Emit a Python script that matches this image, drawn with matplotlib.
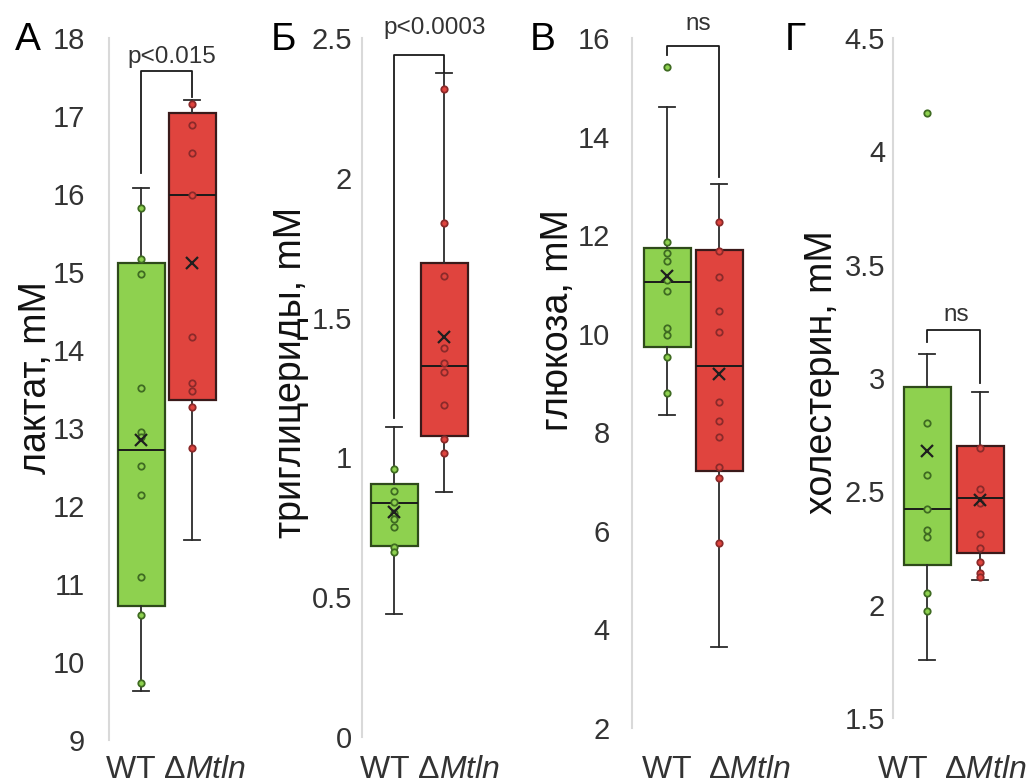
import matplotlib
matplotlib.use('Agg')
import matplotlib.pyplot as plt
from matplotlib.transforms import blended_transform_factory

plt.rcParams['font.family'] = ['Liberation Sans', 'DejaVu Sans']
plt.rcParams['mathtext.fontset'] = 'custom'
plt.rcParams['mathtext.rm'] = 'Liberation Sans'
plt.rcParams['mathtext.it'] = 'Liberation Sans:italic'
plt.rcParams['mathtext.bf'] = 'Liberation Sans:bold'

# ---------------- data ----------------
groups = ['WT', 'ΔMtln']
panel_letters = ['А', 'Б', 'В', 'Г']
y_titles = ['лактат, mM', 'триглицериды, mM', 'глюкоза, mM', 'холестерин, mM']
p_labels = ['p<0.015', 'p<0.0003', 'ns', 'ns']

# box stats: [whisker low, Q1, median, Q3, whisker high, mean]
lactate_wt_box = [9.63, 10.72, 12.72, 15.12, 16.08, 12.85]
lactate_mtln_box = [11.56, 13.36, 15.99, 17.04, 17.20, 15.12]
tg_wt_box = [0.44, 0.683, 0.837, 0.905, 1.109, 0.805]
tg_mtln_box = [0.876, 1.077, 1.327, 1.695, 2.374, 1.43]
glucose_wt_box = [8.35, 9.73, 11.05, 11.74, 14.60, 11.17]
glucose_mtln_box = [3.65, 7.22, 9.35, 11.70, 13.04, 9.18]
chol_wt_box = [1.756, 2.175, 2.42, 2.96, 3.106, 2.68]
chol_mtln_box = [2.11, 2.23, 2.47, 2.70, 2.94, 2.46]

# individual points
lactate_wt = [15.82, 15.17, 14.97, 13.51, 12.95, 12.88, 12.51, 12.14, 11.09, 10.60, 9.73]
lactate_mtln = [17.15, 16.88, 16.52, 15.99, 14.17, 13.58, 13.48, 13.27, 12.74]
tg_wt = [0.96, 0.88, 0.84, 0.80, 0.78, 0.75, 0.68, 0.66]
tg_mtln = [2.317, 1.84, 1.649, 1.39, 1.337, 1.305, 1.187, 1.066, 1.016]
glucose_wt = [15.41, 11.86, 11.64, 11.48, 11.09, 10.87, 10.11, 9.98, 9.53, 8.79]
glucose_mtln = [12.27, 11.68, 11.15, 10.46, 10.04, 8.62, 8.23, 7.90, 7.30, 7.08, 5.76]
chol_wt = [4.17, 2.80, 2.57, 2.42, 2.33, 2.30, 2.05, 1.97]
chol_mtln = [2.69, 2.51, 2.45, 2.31, 2.25, 2.19, 2.14, 2.12]

# significance brackets: [left leg end, top, right leg end]
lactate_bracket = [16.27, 17.58, 17.24]
tg_bracket = [1.14, 2.44, 2.38]
glucose_bracket = [15.65, 15.84, 13.18]
chol_bracket = [3.16, 3.21, 2.98]

# y axis ranges and ticks
lactate_ylim = (9, 18); lactate_ticks = [9, 10, 11, 12, 13, 14, 15, 16, 17, 18]
tg_ylim = (0, 2.5); tg_ticks = [0, 0.5, 1, 1.5, 2, 2.5]
glucose_ylim = (2, 16); glucose_ticks = [2, 4, 6, 8, 10, 12, 14, 16]
chol_ylim = (1.5, 4.5); chol_ticks = [1.5, 2, 2.5, 3, 3.5, 4, 4.5]

# ---------------- layout (pixels) ----------------
W, H = 1032, 784
fig = plt.figure(figsize=(W / 100, H / 100), dpi=100)

# axis line x, WT centre x, Mtln centre x, top y, bottom y
layouts = [
    (109, 141, 192, 38, 740),
    (362, 394, 444, 38, 737),
    (632, 667, 719, 38, 728),
    (893, 927, 980, 38, 718),
]
tick_pads = [24, 10, 22, 8]
letter_pos = [(28, 40), (283, 40), (543, 40), (795, 40)]
ylabel_pos = [(36, 378), (291, 372), (558, 320), (822, 372)]
ptext_x = [0.61, 0.82, 0.60, 0.55]
ptext_y = [17.76, 2.536, 16.28, 3.278]
xlabel_x = [0.67, 0.72, 0.94, 0.47]
xlabel_txt = ['WT $\\Delta\\mathit{Mtln}$', 'WT $\\Delta\\mathit{Mtln}$',
              'WT  $\\Delta\\mathit{Mtln}$', 'WT  $\\Delta\\mathit{Mtln}$']

green = '#8ED14F'
green_edge = '#2E4A1A'
green_pt = '#3F6B22'
red = '#E0443E'
red_edge = '#3A1A1A'
red_pt = '#8B2A2A'
line_col = '#2b2b2b'

panels = [
    (lactate_wt_box, lactate_mtln_box, lactate_wt, lactate_mtln, lactate_bracket, lactate_ylim, lactate_ticks),
    (tg_wt_box, tg_mtln_box, tg_wt, tg_mtln, tg_bracket, tg_ylim, tg_ticks),
    (glucose_wt_box, glucose_mtln_box, glucose_wt, glucose_mtln, glucose_bracket, glucose_ylim, glucose_ticks),
    (chol_wt_box, chol_mtln_box, chol_wt, chol_mtln, chol_bracket, chol_ylim, chol_ticks),
]


def stat(b):
    return dict(whislo=b[0], q1=b[1], med=b[2], q3=b[3], whishi=b[4], mean=b[5], fliers=[], label='')


for i, (bw, bm, pw, pm, br, ylim, ticks) in enumerate(panels):
    ax_x, gx, rx, top, bot = layouts[i]
    s = rx - gx
    gap = gx - ax_x
    width_px = 2 * gap + s
    ax = fig.add_axes([ax_x / W, 1 - bot / H, width_px / W, (bot - top) / H])
    ax.set_xlim(-gap / s, 1 + gap / s)
    ax.set_ylim(*ylim)
    bwid = 47 / s
    res = ax.bxp([stat(bw), stat(bm)], positions=[0, 1], widths=bwid,
                 patch_artist=True, showmeans=True, showfliers=False,
                 capwidths=16 / s,
                 boxprops=dict(linewidth=1.6, edgecolor=green_edge),
                 whiskerprops=dict(color=line_col, linewidth=1.3),
                 capprops=dict(color=line_col, linewidth=1.3),
                 medianprops=dict(color='#1a1a1a', linewidth=1.4),
                 meanprops=dict(marker='x', markersize=9, markeredgewidth=1.6,
                                markeredgecolor='#1f1f1f', markerfacecolor='none'))
    res['boxes'][0].set_facecolor(green)
    res['boxes'][0].set_edgecolor(green_edge)
    res['boxes'][1].set_facecolor(red)
    res['boxes'][1].set_edgecolor(red_edge)
    for m in res['means']:
        m.set_zorder(5)
    ax.plot([0] * len(pw), pw, 'o', ms=4.6, mfc=green, mec=green_pt, mew=1.3, zorder=4, clip_on=False)
    ax.plot([1] * len(pm), pm, 'o', ms=4.6, mfc=red, mec=red_pt, mew=1.3, zorder=4, clip_on=False)

    # bracket
    ax.plot([0, 0, 1, 1], [br[0], br[1], br[1], br[2]], color='#1a1a1a', lw=1.3, clip_on=False, zorder=6)
    ax.text(ptext_x[i], ptext_y[i], p_labels[i], ha='center', va='center', fontsize=17.5,
            color='#333333', clip_on=False)

    # axes styling
    for sp in ['top', 'right', 'bottom']:
        ax.spines[sp].set_visible(False)
    ax.spines['left'].set_color('#d9d9d9')
    ax.spines['left'].set_linewidth(1.5)
    ax.set_yticks(ticks)
    ax.set_yticklabels(['%g' % t for t in ticks])
    ax.tick_params(axis='y', length=0, pad=tick_pads[i] * 0.72, labelsize=21, labelcolor='#333333')
    ax.set_xticks([])
    ax.patch.set_alpha(0)

    trans = blended_transform_factory(ax.transData, fig.transFigure)
    ax.text(xlabel_x[i], 1 - 770 / H, xlabel_txt[i], transform=trans, ha='center', va='center',
            fontsize=23, color='#333333')

    fig.text(ylabel_pos[i][0] / W, 1 - ylabel_pos[i][1] / H, y_titles[i], rotation=90,
             ha='center', va='center', fontsize=27, color='#111111')
    fig.text(letter_pos[i][0] / W, 1 - letter_pos[i][1] / H, panel_letters[i],
             ha='center', va='center', fontsize=28, color='black')

fig.savefig('out.png', dpi=100, facecolor='white')
